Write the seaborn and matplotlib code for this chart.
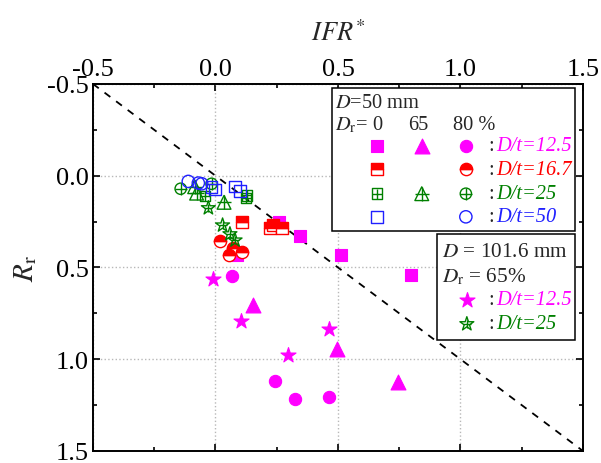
import matplotlib
matplotlib.use('Agg')
import matplotlib.pyplot as plt
from matplotlib.markers import MarkerStyle
from matplotlib.patches import Rectangle
from matplotlib.ticker import MultipleLocator, FormatStrFormatter
import seaborn as sns

# D = 50 mm, D/t = 12.5 (magenta)
m_sq_x = [0.345, 0.511, 0.797, 0.258, 0.088]
m_sq_y = [0.327, 0.434, 0.543, 0.252, 0.430]
m_tri_x = [0.154, 0.495, 0.746]
m_tri_y = [0.707, 0.943, 1.124]
m_ci_x = [0.066, 0.243, 0.324, 0.465]
m_ci_y = [0.547, 1.121, 1.215, 1.206]
# D = 50 mm, D/t = 16.7 (red)
r_sq_x = [0.107, 0.222, 0.235, 0.270]
r_sq_y = [0.250, 0.285, 0.267, 0.283]
r_ci_x = [0.018, 0.073, 0.056, 0.107]
r_ci_y = [0.358, 0.394, 0.434, 0.416]
# D = 50 mm, D/t = 25 (green)
g_sq_x = [-0.043, 0.124, 0.129]
g_sq_y = [0.111, 0.122, 0.107]
g_tri_x = [-0.077, 0.035, -0.085]
g_tri_y = [0.095, 0.145, 0.060]
g_ci_x = [-0.142, -0.016]
g_ci_y = [0.071, 0.044]
# D = 50 mm, D/t = 50 (blue)
b_sq_x = [-0.016, -0.002, 0.080, 0.100]
b_sq_y = [0.062, 0.075, 0.058, 0.083]
b_ci_x = [-0.111, -0.070, -0.056]
b_ci_y = [0.031, 0.040, 0.044]
# D = 101.6 mm, Dr = 65 %
m_star_x = [-0.012, 0.104, 0.297, 0.465]
m_star_y = [0.565, 0.794, 0.979, 0.834]
g_star_x = [-0.029, 0.029, 0.059, 0.080]
g_star_y = [0.176, 0.270, 0.318, 0.352]

ref_line = [-0.5, 1.5]

MAG = '#ff00ff'
RED = '#ff0000'
GRN = '#008000'
BLU = '#2020ff'

sns.set_style('ticks')
plt.rcParams['font.family'] = ['Liberation Serif', 'DejaVu Serif']
plt.rcParams['mathtext.fontset'] = 'stix'
plt.rcParams['axes.unicode_minus'] = False

fig = plt.figure(figsize=(6.01, 4.64), dpi=100)
ax = fig.add_axes([0.1547, 0.0259, 0.8153, 0.791])

SIZES = {'s': 68, 'o': 78, '^': 115, '*': 130}


def sym(x, y, kind, color, z=3, tr=None):
    kw = dict(ax=ax, zorder=z, legend=False)
    if tr is not None:
        kw.update(transform=tr, clip_on=False)
    shape = kind[0]
    s = SIZES[shape]
    style = kind[1:]
    if style == 'fill':
        sns.scatterplot(x=x, y=y, marker=shape, s=s, facecolor=color,
                        edgecolor=color, linewidth=0.8, **kw)
    elif style == 'half':
        sns.scatterplot(x=x, y=y, marker=MarkerStyle(shape, fillstyle='bottom'),
                        s=s, facecolor='white', edgecolor=color, linewidth=1.0, **kw)
        sns.scatterplot(x=x, y=y, marker=MarkerStyle(shape, fillstyle='top'),
                        s=s, facecolor=color, edgecolor=color, linewidth=1.0, **kw)
    else:
        sns.scatterplot(x=x, y=y, marker=shape, s=s * (0.85 if style == 'plus' else 1.0),
                        facecolor='none', edgecolor=color, linewidth=1.0, **kw)
        if style == 'plus':
            ps = s * (0.3 if shape == '*' else 0.85)
            sns.scatterplot(x=x, y=y, marker='+', s=ps, color=color,
                            linewidth=1.0, **kw)


# reference line
ax.plot(ref_line, ref_line, color='black', ls='--', lw=1.3, dashes=(4, 4), zorder=2)

sym(m_sq_x, m_sq_y, 'sfill', MAG)
sym(m_tri_x, m_tri_y, '^fill', MAG)
sym(m_ci_x, m_ci_y, 'ofill', MAG)
sym(m_star_x, m_star_y, '*fill', MAG)
sym(r_sq_x, r_sq_y, 'shalf', RED)
sym(r_ci_x, r_ci_y, 'ohalf', RED)
sym(g_star_x, g_star_y, '*plus', GRN)
sym(g_sq_x, g_sq_y, 'splus', GRN)
sym(g_tri_x, g_tri_y, '^plus', GRN)
sym(g_ci_x, g_ci_y, 'oplus', GRN)
sym(b_sq_x, b_sq_y, 'sopen', BLU)
sym(b_ci_x, b_ci_y, 'oopen', BLU)

ax.set_xlim(-0.5, 1.5)
ax.set_ylim(1.5, -0.5)
ax.xaxis.set_major_locator(MultipleLocator(0.5))
ax.yaxis.set_major_locator(MultipleLocator(0.5))
ax.xaxis.set_minor_locator(MultipleLocator(0.25))
ax.yaxis.set_minor_locator(MultipleLocator(0.25))
ax.xaxis.set_major_formatter(FormatStrFormatter('%.1f'))
ax.yaxis.set_major_formatter(FormatStrFormatter('%.1f'))
ax.xaxis.set_label_position('top')
ax.tick_params(which='both', direction='in', top=True, bottom=True, left=True,
               right=True, labeltop=True, labelbottom=False, labelsize=19,
               width=1.2, colors='black')
ax.tick_params(which='major', length=5, pad=3)
ax.tick_params(which='minor', length=3)
for sp in ax.spines.values():
    sp.set_linewidth(1.4)
    sp.set_color('black')
ax.set_axisbelow(True)
ax.grid(True, which='major', ls=':', color='#b8b8b8', lw=1.0)

ax.set_xlabel(r'$IFR^{*}$', fontsize=19, labelpad=13)
ax.set_ylabel(r'$R_{\mathrm{r}}$', fontsize=21, labelpad=6)

FS1 = 14.7
FS2 = 15.3

# legend box 1 (D = 50 mm)
T = ax.transAxes
ax.add_patch(Rectangle((0.487, 0.600), 0.497, 0.389, transform=T,
                       facecolor='white', edgecolor='black', lw=1.1, zorder=5))
ax.text(0.494, 0.937, r'$D$=50 mm', transform=T, fontsize=FS1, zorder=7)
ax.text(0.494, 0.877, r'$D_{\mathrm{r}}$= 0', transform=T, fontsize=FS1, zorder=7)
ax.text(0.664, 0.877, '65', transform=T, fontsize=FS1, ha='center', zorder=7)
ax.text(0.735, 0.877, '80 %', transform=T, fontsize=FS1, zorder=7)
cols = [0.580, 0.671, 0.761]
rows = [0.832, 0.768, 0.701, 0.638]
legend_rows = [
    (['sfill', '^fill', 'ofill'], MAG, 'D/t=12.5'),
    (['shalf', None, 'ohalf'], RED, 'D/t=16.7'),
    (['splus', '^plus', 'oplus'], GRN, 'D/t=25'),
    (['sopen', None, 'oopen'], BLU, 'D/t=50'),
]
for (kinds, c, lab), ry in zip(legend_rows, rows):
    for k, cx in zip(kinds, cols):
        if k:
            sym([cx], [ry], k, c, z=8, tr=T)
    ax.text(0.807, ry, ':', transform=T, fontsize=FS1, va='center', zorder=7)
    ax.text(0.824, ry, lab, transform=T, fontsize=FS1, va='center',
            color=c, style='italic', zorder=7)

# legend box 2 (D = 101.6 mm)
ax.add_patch(Rectangle((0.703, 0.303), 0.281, 0.288, transform=T,
                       facecolor='white', edgecolor='black', lw=1.1, zorder=5))
ax.text(0.712, 0.530, r'$D$ = 101.6 mm', transform=T, fontsize=FS2, zorder=7)
ax.text(0.712, 0.462, r'$D_{\mathrm{r}}$ = 65%', transform=T, fontsize=FS2, zorder=7)
for k, c, lab, ry in [('*fill', MAG, 'D/t=12.5', 0.412), ('*plus', GRN, 'D/t=25', 0.346)]:
    sym([0.763], [ry], k, c, z=8, tr=T)
    ax.text(0.807, ry, ':', transform=T, fontsize=FS1, va='center', zorder=7)
    ax.text(0.824, ry, lab, transform=T, fontsize=FS1, va='center',
            color=c, style='italic', zorder=7)

fig.savefig('out.png', dpi=100)
